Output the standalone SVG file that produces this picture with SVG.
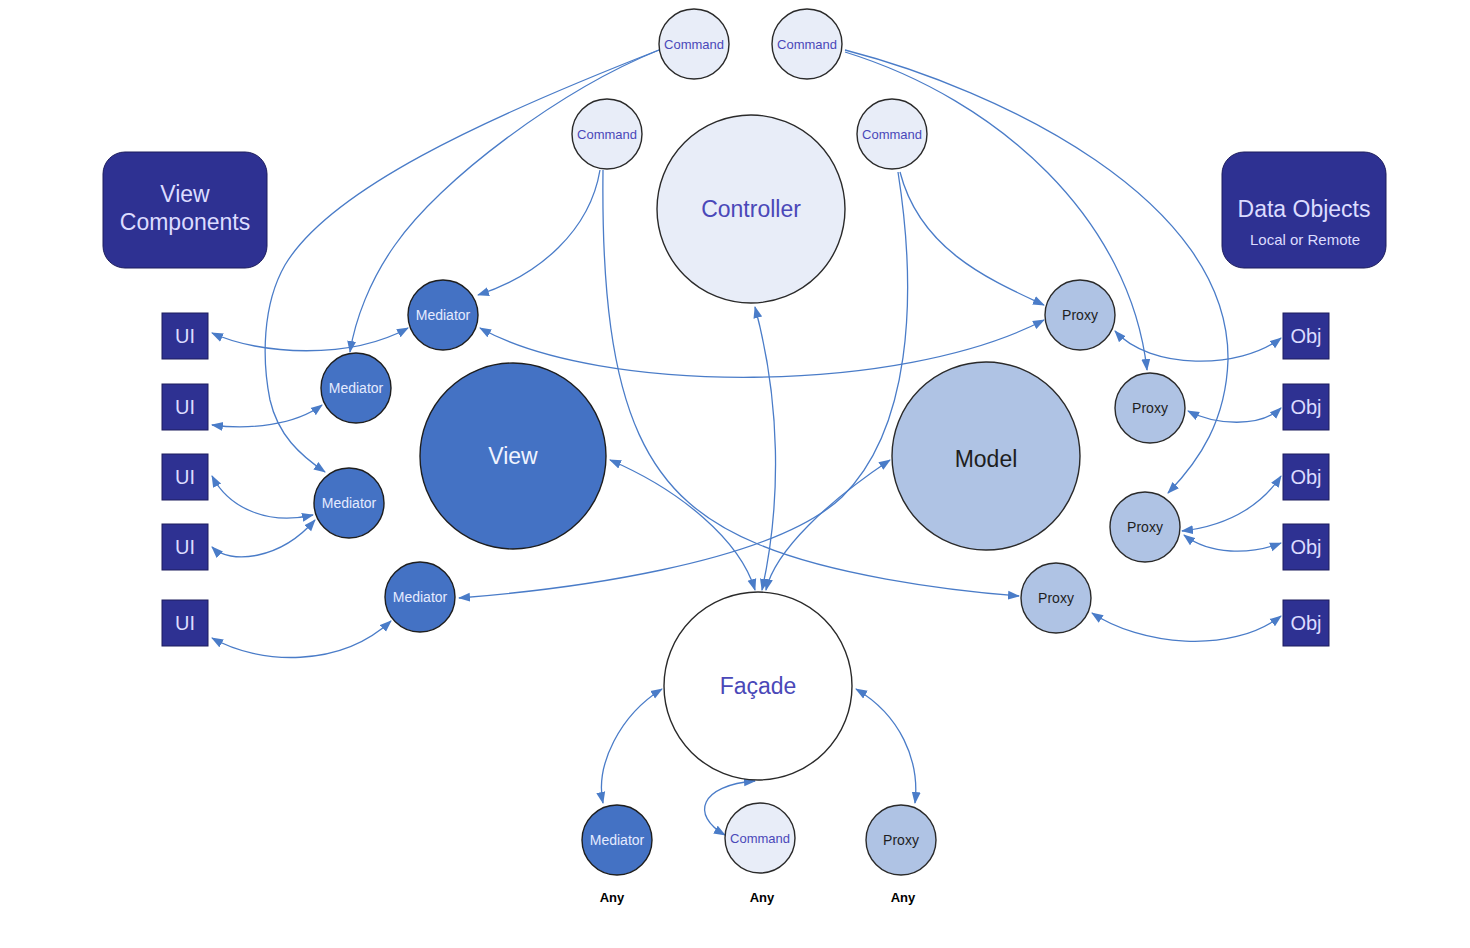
<svg xmlns="http://www.w3.org/2000/svg" width="1470" height="948" viewBox="0 0 1470 948">
<defs>
<marker id="ah" markerUnits="userSpaceOnUse" markerWidth="12" markerHeight="10" refX="11" refY="5" orient="auto-start-reverse">
<path d="M0,0.5 L12,5 L0,9.5 z" fill="#4a7cc8"/>
</marker>
<style>
.cn{fill:none;stroke:#4a7cc8;stroke-width:1.3}
.bi{marker-start:url(#ah);marker-end:url(#ah)}
.uni{marker-end:url(#ah)}
.cmd{fill:#e8edf8;stroke:#2a2a2a;stroke-width:1.4}
.med{fill:#4472c4;stroke:#1e1e1e;stroke-width:1.4}
.prx{fill:#afc3e4;stroke:#2a2a2a;stroke-width:1.4}
.fac{fill:#ffffff;stroke:#2a2a2a;stroke-width:1.4}
.box{fill:#2e3192;stroke:#1c1c5c;stroke-width:1}
text{font-family:"Liberation Sans",Arial,sans-serif;text-anchor:middle}
.tc{fill:#4a48b8;font-size:13px}
.tm{fill:#e4ebff;font-size:14px}
.tp{fill:#1e1e1e;font-size:14px}
.tb{fill:#dcdcff;font-size:20px}
.big{font-size:23px}
.any{fill:#000;font-size:13px;font-weight:bold}
</style>
</defs>
<rect width="1470" height="948" fill="#ffffff"/>

<g id="connectors">
<path class="cn uni" d="M659,50 C560,90 440,180 395,245 C370,280 355,320 350,352"/>
<path class="cn uni" d="M659,50 C480,120 330,190 285,265 C262,305 262,360 270,400 C278,435 300,455 325,472"/>
<path class="cn uni" d="M845,52 C1000,100 1130,220 1147,370"/>
<path class="cn uni" d="M845,50 C1000,90 1230,200 1228,360 C1226,420 1200,460 1168,493"/>
<path class="cn uni" d="M600,170 C590,230 540,275 478,295"/>
<path class="cn uni" d="M603,170 C600,420 650,500 760,545 C830,574 940,590 1019,596"/>
<path class="cn uni" d="M900,172 C920,250 990,280 1044,305"/>
<path class="cn uni" d="M898,172 C918,300 910,430 842,497 C770,565 560,590 459,598"/>
<path class="cn bi" d="M755,307 C780,400 782,500 762,590"/>
<path class="cn bi" d="M610,460 C680,490 740,540 755,590"/>
<path class="cn bi" d="M890,460 C830,500 775,550 766,590"/>
<path class="cn bi" d="M480,328 C600,395 900,395 1044,320"/>
<path class="cn bi" d="M212,333 C260,355 350,360 408,328"/>
<path class="cn bi" d="M212,425 C250,430 295,425 322,405"/>
<path class="cn bi" d="M212,476 C230,510 270,525 313,515"/>
<path class="cn bi" d="M212,547 C230,565 280,560 315,520"/>
<path class="cn bi" d="M212,638 C260,665 340,668 391,621"/>
<path class="cn bi" d="M1115,331 C1150,370 1240,370 1281,338"/>
<path class="cn bi" d="M1188,411 C1215,425 1260,428 1281,408"/>
<path class="cn bi" d="M1182,531 C1235,525 1265,500 1281,476"/>
<path class="cn bi" d="M1184,535 C1210,555 1250,555 1281,543"/>
<path class="cn bi" d="M1092,613 C1140,645 1230,655 1281,616"/>
<path class="cn bi" d="M662,689 C620,715 595,765 603,803"/>
<path class="cn bi" d="M755,781 C700,785 690,815 725,835"/>
<path class="cn bi" d="M856,689 C900,715 920,760 915,803"/>
</g>

<g id="view-components"><rect class="box" x="103" y="152" width="164" height="116" rx="22"/><text class="tb" x="185" y="202" style="font-size:23px">View</text><text class="tb" x="185" y="230" style="font-size:23px">Components</text></g>
<g id="data-objects"><rect class="box" x="1222" y="152" width="164" height="116" rx="22"/><text class="tb" x="1304" y="217" style="font-size:23px">Data Objects</text><text class="tb" x="1305" y="245" style="font-size:15px">Local or Remote</text></g>

<g id="cmd-top1"><circle class="cmd" cx="694" cy="44" r="35"/><text class="tc" x="694" y="48.5">Command</text></g>
<g id="cmd-top2"><circle class="cmd" cx="807" cy="44" r="35"/><text class="tc" x="807" y="48.5">Command</text></g>
<g id="cmd-left"><circle class="cmd" cx="607" cy="134" r="35"/><text class="tc" x="607" y="138.5">Command</text></g>
<g id="cmd-right"><circle class="cmd" cx="892" cy="134" r="35"/><text class="tc" x="892" y="138.5">Command</text></g>
<g id="controller"><circle class="cmd" cx="751" cy="209" r="94"/><text class="tc big" x="751" y="217">Controller</text></g>
<g id="view"><circle class="med" cx="513" cy="456" r="93"/><text class="tm big" x="513" y="464" style="fill:#f0f4ff">View</text></g>
<g id="model"><circle class="prx" cx="986" cy="456" r="94"/><text class="tp big" x="986" y="467">Model</text></g>
<g id="facade"><circle class="fac" cx="758" cy="686" r="94"/><text class="tc big" x="758" y="694">Façade</text></g>

<g id="med1"><circle class="med" cx="443" cy="315" r="35"/><text class="tm" x="443" y="320">Mediator</text></g>
<g id="med2"><circle class="med" cx="356" cy="388" r="35"/><text class="tm" x="356" y="393">Mediator</text></g>
<g id="med3"><circle class="med" cx="349" cy="503" r="35"/><text class="tm" x="349" y="508">Mediator</text></g>
<g id="med4"><circle class="med" cx="420" cy="597" r="35"/><text class="tm" x="420" y="602">Mediator</text></g>

<g id="proxy1"><circle class="prx" cx="1080" cy="315" r="35"/><text class="tp" x="1080" y="320">Proxy</text></g>
<g id="proxy2"><circle class="prx" cx="1150" cy="408" r="35"/><text class="tp" x="1150" y="413">Proxy</text></g>
<g id="proxy3"><circle class="prx" cx="1145" cy="527" r="35"/><text class="tp" x="1145" y="532">Proxy</text></g>
<g id="proxy4"><circle class="prx" cx="1056" cy="598" r="35"/><text class="tp" x="1056" y="603">Proxy</text></g>

<g id="ui1"><rect class="box" x="162" y="313" width="46" height="46"/><text class="tb" x="185" y="343">UI</text></g>
<g id="ui2"><rect class="box" x="162" y="384" width="46" height="46"/><text class="tb" x="185" y="414">UI</text></g>
<g id="ui3"><rect class="box" x="162" y="454" width="46" height="46"/><text class="tb" x="185" y="484">UI</text></g>
<g id="ui4"><rect class="box" x="162" y="524" width="46" height="46"/><text class="tb" x="185" y="554">UI</text></g>
<g id="ui5"><rect class="box" x="162" y="600" width="46" height="46"/><text class="tb" x="185" y="630">UI</text></g>

<g id="obj1"><rect class="box" x="1283" y="313" width="46" height="46"/><text class="tb" x="1306" y="343">Obj</text></g>
<g id="obj2"><rect class="box" x="1283" y="384" width="46" height="46"/><text class="tb" x="1306" y="414">Obj</text></g>
<g id="obj3"><rect class="box" x="1283" y="454" width="46" height="46"/><text class="tb" x="1306" y="484">Obj</text></g>
<g id="obj4"><rect class="box" x="1283" y="524" width="46" height="46"/><text class="tb" x="1306" y="554">Obj</text></g>
<g id="obj5"><rect class="box" x="1283" y="600" width="46" height="46"/><text class="tb" x="1306" y="630">Obj</text></g>

<g id="any-mediator"><circle class="med" cx="617" cy="840" r="35"/><text class="tm" x="617" y="845">Mediator</text><text class="any" x="612" y="902">Any</text></g>
<g id="any-command"><circle class="cmd" cx="760" cy="838" r="35"/><text class="tc" x="760" y="842.5">Command</text><text class="any" x="762" y="902">Any</text></g>
<g id="any-proxy"><circle class="prx" cx="901" cy="840" r="35"/><text class="tp" x="901" y="845">Proxy</text><text class="any" x="903" y="902">Any</text></g>
</svg>
